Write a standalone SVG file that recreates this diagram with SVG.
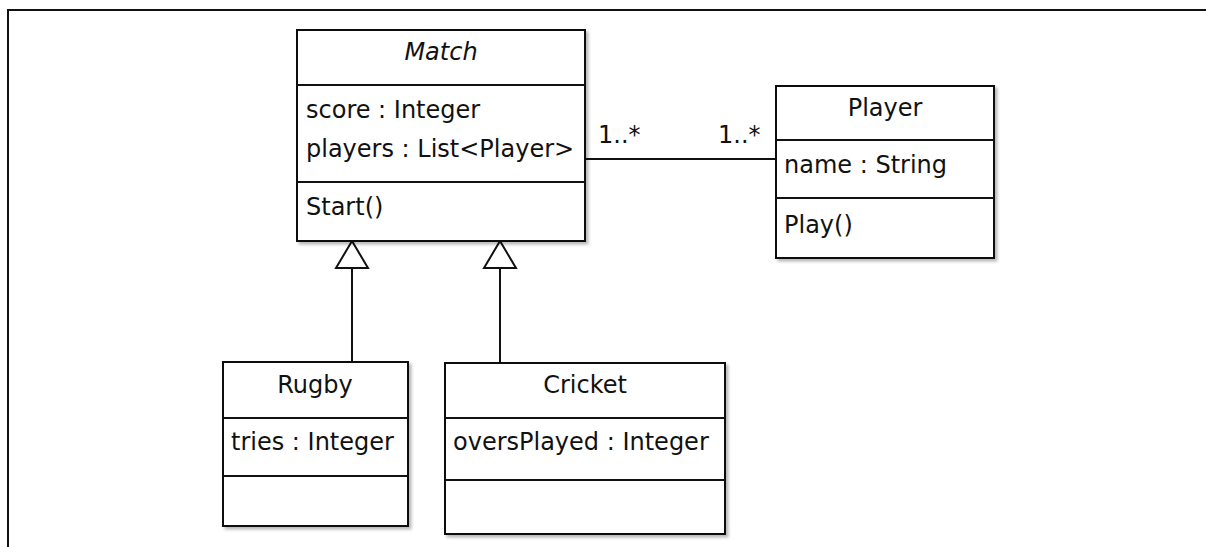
<svg xmlns="http://www.w3.org/2000/svg" width="1206" height="547" viewBox="0 0 1206 547">
<defs>
<filter id="sh" x="-5%" y="-5%" width="115%" height="115%">
<feDropShadow dx="2.5" dy="2.5" stdDeviation="1.5" flood-color="#000" flood-opacity="0.28"/>
</filter>
</defs>
<style>
.box{fill:#fff;stroke:#111;stroke-width:2;filter:url(#sh)}
.sep{stroke:#111;stroke-width:2}
.ln{stroke:#111;stroke-width:2;fill:none}
.tri{fill:#fff;stroke:#111;stroke-width:2;stroke-linejoin:miter}
text{font-family:"DejaVu Sans","Liberation Sans",sans-serif;font-size:24px;fill:#111}
.c{text-anchor:middle}
.i{font-style:italic}
</style>
<rect width="1206" height="547" fill="#fff"/>
<g id="frame">
<line x1="7" y1="10" x2="1206" y2="10" class="ln"/>
<line x1="8" y1="9" x2="8" y2="547" class="ln"/>
</g>
<g id="connectors">
<line x1="585" y1="159" x2="776" y2="159" class="ln"/>
<text x="598" y="143">1..*</text>
<text x="718" y="143">1..*</text>
<line x1="352" y1="268" x2="352" y2="362" class="ln"/>
<polygon points="352,241 336,268 368,268" class="tri"/>
<line x1="500" y1="268" x2="500" y2="363" class="ln"/>
<polygon points="500,241 484,268 516,268" class="tri"/>
</g>
<g id="match">
<rect x="297" y="30" width="288" height="211" class="box"/>
<line x1="297" y1="85" x2="585" y2="85" class="sep"/>
<line x1="297" y1="182" x2="585" y2="182" class="sep"/>
<text x="441" y="60" class="c i">Match</text>
<text x="306" y="118">score : Integer</text>
<text x="306" y="157">players : List&lt;Player&gt;</text>
<text x="306" y="215">Start()</text>
</g>
<g id="player">
<rect x="776" y="86" width="218" height="172" class="box"/>
<line x1="776" y1="140" x2="994" y2="140" class="sep"/>
<line x1="776" y1="198" x2="994" y2="198" class="sep"/>
<text x="885" y="116" class="c">Player</text>
<text x="784" y="173">name : String</text>
<text x="784" y="233">Play()</text>
</g>
<g id="rugby">
<rect x="223" y="362" width="185" height="164" class="box"/>
<line x1="223" y1="418" x2="408" y2="418" class="sep"/>
<line x1="223" y1="476" x2="408" y2="476" class="sep"/>
<text x="315" y="393" class="c">Rugby</text>
<text x="231" y="450">tries : Integer</text>
</g>
<g id="cricket">
<rect x="445" y="363" width="280" height="171" class="box"/>
<line x1="445" y1="418" x2="725" y2="418" class="sep"/>
<line x1="445" y1="480" x2="725" y2="480" class="sep"/>
<text x="585" y="393" class="c">Cricket</text>
<text x="453" y="450">oversPlayed : Integer</text>
</g>
</svg>
